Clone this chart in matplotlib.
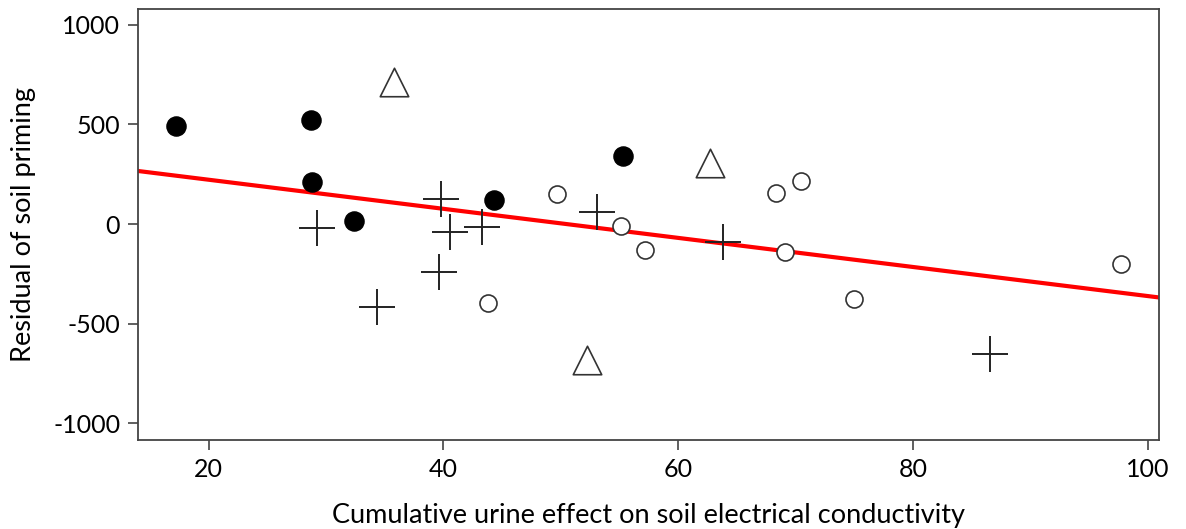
import numpy as np
import matplotlib
matplotlib.use('Agg')
import matplotlib.pyplot as plt

plt.rcParams['font.family'] = ['Lato', 'DejaVu Sans']
plt.rcParams['axes.unicode_minus'] = False

# filled circles
filled_x = [17.2, 28.7, 28.8, 32.4, 44.3, 55.3]
filled_y = [493, 522, 209, 15, 120, 343]

# open circles
open_x = [43.8, 49.7, 55.1, 57.2, 68.3, 70.5, 69.1, 75.0, 97.7]
open_y = [-398, 150, -9, -130, 157, 216, -142, -375, -202]

# triangles
tri_x = [35.8, 62.7, 52.2]
tri_y = [714, 304, -682]

# crosses
plus_x = [29.2, 39.8, 40.6, 43.3, 39.6, 34.3, 53.1, 63.8, 86.6]
plus_y = [-22, 124, -42, -17, -239, -415, 62, -89, -653]

# fitted line
fit_slope = -7.29
fit_intercept = 368

fig = plt.figure(figsize=(11.86, 5.29), dpi=100)
ax = fig.add_axes([0.1166, 0.1682, 0.8609, 0.8154])

xs = np.array([14, 101])
ax.plot(xs, fit_intercept + fit_slope * xs, color='red', lw=3, zorder=1)

ax.scatter(filled_x, filled_y, s=190, color='black', zorder=3)
ax.scatter(open_x, open_y, s=150, facecolor='white', edgecolor='#333333', lw=1.2, zorder=3)
ax.scatter(tri_x, tri_y, marker='^', s=420, facecolor='white', edgecolor='#333333', lw=1.2, zorder=3)
ax.scatter(plus_x, plus_y, marker='+', s=650, color='#222222', lw=1.4, zorder=3)

ax.set_xlim(14, 101)
ax.set_ylim(-1083, 1080)
ax.set_xticks([20, 40, 60, 80, 100])
ax.set_yticks([-1000, -500, 0, 500, 1000])
ax.tick_params(labelsize=18, length=7, width=1.2, color='#444444', pad=6)
for s in ax.spines.values():
    s.set_color('#444444')
    s.set_linewidth(1.3)

ax.set_xlabel('Cumulative urine effect on soil electrical conductivity', fontsize=19.5, labelpad=16)
ax.set_ylabel('Residual of soil priming', fontsize=19.5, labelpad=12)

fig.savefig('out.png', dpi=100)
